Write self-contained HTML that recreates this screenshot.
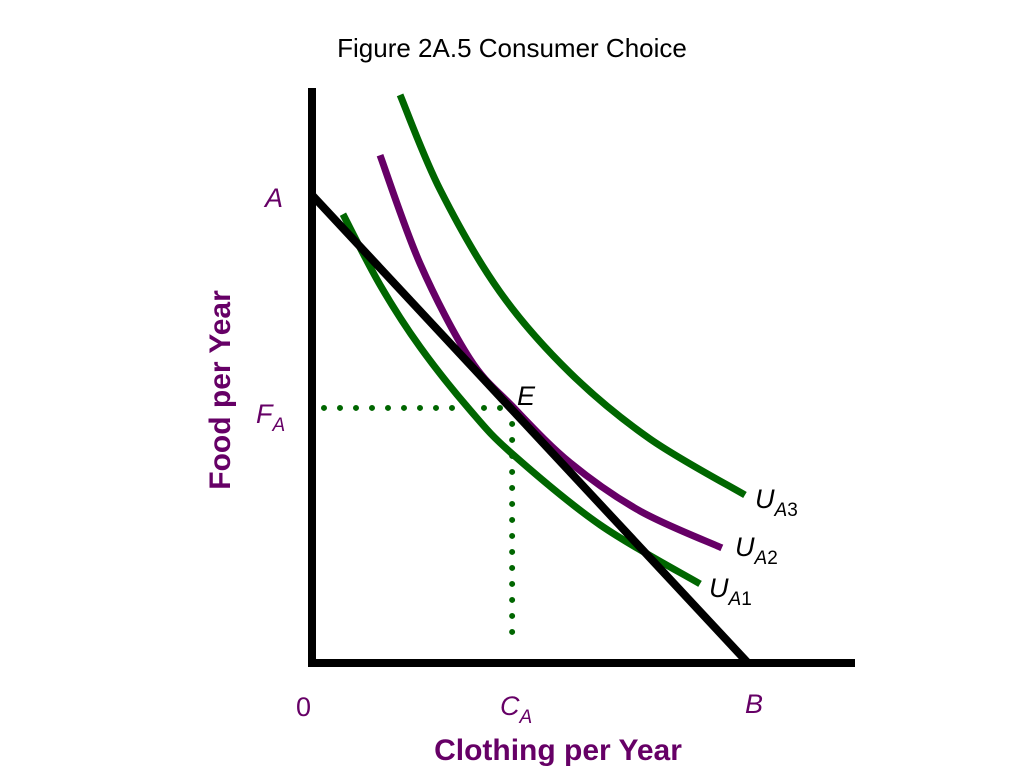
<!DOCTYPE html>
<html><head><meta charset="utf-8"><style>
body{margin:0;background:#fff}
svg{display:block;font-family:"Liberation Sans",sans-serif}
</style></head><body>
<svg width="1024" height="768">
<text x="512" y="57" font-size="26" text-anchor="middle" fill="#000">Figure 2A.5 Consumer Choice</text>
<g id="marks"></g>
<line x1="312" y1="88" x2="312" y2="667" stroke="#000" stroke-width="8"/>
<line x1="308" y1="663" x2="855" y2="663" stroke="#000" stroke-width="8"/>
<g fill="#660066" font-size="27" font-style="italic">
<text x="265" y="207">A</text>
<text x="256" y="423">F<tspan font-size="19" dy="8">A</tspan></text>
<text x="500" y="715">C<tspan font-size="19" dy="8">A</tspan></text>
<text x="745" y="713">B</text>
</g>
<text x="296" y="716" font-size="27" fill="#660066">0</text>
<text x="517" y="405" font-size="27" font-style="italic" fill="#000">E</text>
<g fill="#000" font-size="27" font-style="italic">
<text x="755" y="508">U<tspan font-size="19" dy="8">A</tspan><tspan font-size="19" font-style="normal">3</tspan></text>
<text x="735" y="556">U<tspan font-size="19" dy="8">A</tspan><tspan font-size="19" font-style="normal">2</tspan></text>
<text x="709" y="597">U<tspan font-size="19" dy="8">A</tspan><tspan font-size="19" font-style="normal">1</tspan></text>
</g>
<text x="558" y="760" font-size="30" font-weight="bold" fill="#660066" text-anchor="middle">Clothing per Year</text>
<text transform="translate(230,390) rotate(-90)" font-size="30" font-weight="bold" fill="#660066" text-anchor="middle">Food per Year</text>
</svg>
<script>
const budgetX=[0,10];
const budgetY=[10,0];
const equilibrium=[4.59,5.45];
const u1X=[0.71,1.56,2.48,3.62,4.59,6.61,8.9];
const u1Y=[9.59,8.08,6.75,5.41,4.47,2.95,1.69];
const u2X=[1.56,2.48,3.62,4.59,5.92,7.52,9.4];
const u2Y=[10.85,8.53,6.5,5.49,4.28,3.25,2.46];
const u3X=[2.02,2.94,4.31,5.92,7.75,9.93];
const u3Y=[12.14,10.11,7.93,6.2,4.79,3.59];
const sx=v=>312+v*43.6, sy=v=>663-v*46.8;
const NS="http://www.w3.org/2000/svg", g=document.getElementById('marks');
function mk(tag,attrs){const e=document.createElementNS(NS,tag);for(const k in attrs)e.setAttribute(k,attrs[k]);g.appendChild(e);return e;}
function smooth(xs,ys){const p=xs.map((x,i)=>[sx(x),sy(ys[i])]);let d='M'+p[0][0]+','+p[0][1];
for(let i=0;i<p.length-1;i++){const p0=p[i-1]||p[i],p1=p[i],p2=p[i+1],p3=p[i+2]||p2;
d+=' C'+(p1[0]+(p2[0]-p0[0])/6)+','+(p1[1]+(p2[1]-p0[1])/6)+' '+(p2[0]-(p3[0]-p1[0])/6)+','+(p2[1]-(p3[1]-p1[1])/6)+' '+p2[0]+','+p2[1];}return d;}
const ex=sx(equilibrium[0]), ey=sy(equilibrium[1]);
let h=mk('line',{x1:sx(0)+12,y1:ey,x2:ex,y2:ey,stroke:'#006600','stroke-width':6,'stroke-dasharray':'0 16','stroke-linecap':'round'});


let v=mk('line',{x1:ex,y1:ey,x2:ex,y2:sy(0)-16,stroke:'#006600','stroke-width':6,'stroke-dasharray':'0 16','stroke-linecap':'round'});


let c1=mk('path',{d:smooth(u1X,u1Y),fill:'none',stroke:'#006600','stroke-width':7});


let c3=mk('path',{d:smooth(u3X,u3Y),fill:'none',stroke:'#006600','stroke-width':7});


let c2=mk('path',{d:smooth(u2X,u2Y),fill:'none',stroke:'#660066','stroke-width':7});


let b=mk('line',{x1:sx(budgetX[0]),y1:sy(budgetY[0]),x2:sx(budgetX[1]),y2:sy(budgetY[1]),stroke:'#000','stroke-width':8});


</script>
</body></html>
